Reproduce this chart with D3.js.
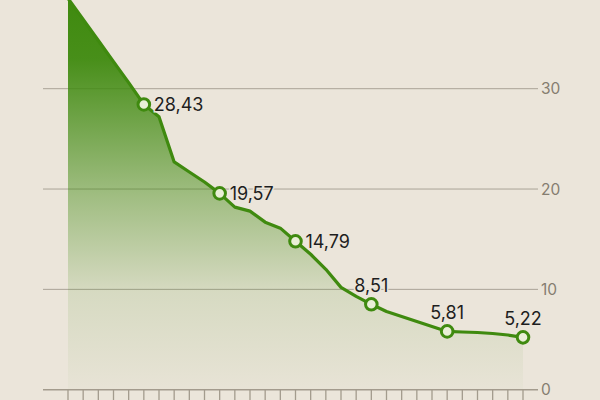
<!DOCTYPE html>
<html>
<head>
<meta charset="utf-8">
<script src="https://cdn.jsdelivr.net/npm/d3@7"></script>
<style>
  html, body { margin: 0; padding: 0; background: #ebe5da; }
  svg { display: block; }
</style>
</head>
<body>
<svg id="chart" width="600" height="400"></svg>
<script>
const days = [1, 2, 3, 4, 5, 6, 7, 8, 9, 10, 11, 12, 13, 14, 15, 16,
  17, 18, 19, 20, 21, 22, 23, 24, 25, 26, 27, 28, 29, 30, 31];
const values = [39.0, 36.9, 34.8, 32.7, 30.6, 28.43, 27.2, 22.7, 21.7, 20.7,
  19.57, 18.2, 17.8, 16.7, 16.1, 14.79, 13.5, 12.0, 10.2, 9.3,
  8.51, 7.8, 7.3, 6.8, 6.3, 5.81, 5.75, 5.7, 5.6, 5.45, 5.22];
const markedDays = [6, 11, 16, 21, 26, 31];
const labelsRight = [6, 11, 16];   // label to the right of the dot, others above
const yTicks = [0, 10, 20, 30];

const W = 600, H = 400;
const GRID_LEFT = 43, GRID_RIGHT = 538;
const GREEN = "#3f8a0f";
const FONT = "Inter, Roboto, 'Liberation Sans', sans-serif";

const svg = d3.select("#chart").attr("viewBox", `0 0 ${W} ${H}`);

const x = d3.scalePoint().domain(days).range([68, 523]);
const y = d3.scaleLinear().domain([0, 30]).range([389.7, 88.7]);

const data = days.map((d, i) => ({ day: d, v: values[i] }));

// gradient for the area
const grad = svg.append("defs").append("linearGradient")
  .attr("id", "areaGrad")
  .attr("gradientUnits", "userSpaceOnUse")
  .attr("x1", 0).attr("y1", 0).attr("x2", 0).attr("y2", y(0));
[[0, 1], [0.15, 0.95], [0.5, 0.44], [0.75, 0.12], [1, 0.02]].forEach(([o, a]) => {
  grad.append("stop").attr("offset", o).attr("stop-color", GREEN).attr("stop-opacity", a);
});

// gridlines
svg.append("g").selectAll("line")
  .data(yTicks.filter(t => t > 0))
  .join("line")
    .attr("x1", GRID_LEFT).attr("x2", GRID_RIGHT)
    .attr("y1", d => y(d)).attr("y2", d => y(d))
    .attr("stroke", "#aaa397").attr("stroke-width", 1);

// area + line
svg.append("path")
  .datum(data)
  .attr("fill", "url(#areaGrad)")
  .attr("d", d3.area().x(d => x(d.day)).y0(y(0)).y1(d => y(d.v)));

svg.append("path")
  .datum(data)
  .attr("fill", "none")
  .attr("stroke", GREEN)
  .attr("stroke-width", 3.2)
  .attr("stroke-linejoin", "round")
  .attr("d", d3.line().x(d => x(d.day)).y(d => y(d.v)));

// x axis with a tick per day
svg.append("line")
  .attr("x1", GRID_LEFT).attr("x2", GRID_RIGHT)
  .attr("y1", y(0)).attr("y2", y(0))
  .attr("stroke", "#a39b8d").attr("stroke-width", 1.5);
svg.append("g").selectAll("line")
  .data(days)
  .join("line")
    .attr("x1", d => x(d)).attr("x2", d => x(d))
    .attr("y1", y(0)).attr("y2", H)
    .attr("stroke", "#a39b8d").attr("stroke-width", 1.3);

// y labels on the right
svg.append("g").selectAll("text")
  .data(yTicks)
  .join("text")
    .attr("x", 541)
    .attr("y", d => y(d))
    .attr("dy", "0.36em")
    .attr("fill", "#857d70")
    .attr("font-family", FONT)
    .attr("font-size", 15.5)
    .text(d => d);

// markers
const marked = data.filter(d => markedDays.includes(d.day));
svg.append("g").selectAll("circle")
  .data(marked)
  .join("circle")
    .attr("cx", d => x(d.day))
    .attr("cy", d => y(d.v))
    .attr("r", 5.8)
    .attr("fill", "#e9efd6")
    .attr("stroke", GREEN)
    .attr("stroke-width", 3);

const fmt = v => v.toFixed(2).replace(".", ",");
svg.append("g").selectAll("text")
  .data(marked)
  .join("text")
    .attr("x", d => labelsRight.includes(d.day) ? x(d.day) + 10 : x(d.day))
    .attr("y", d => labelsRight.includes(d.day) ? y(d.v) : y(d.v) - 12)
    .attr("dy", d => labelsRight.includes(d.day) ? "0.36em" : 0)
    .attr("text-anchor", d => labelsRight.includes(d.day) ? "start" : "middle")
    .attr("fill", "#1e1e1e")
    .attr("stroke", "#ebe5da")
    .attr("stroke-width", 3)
    .attr("paint-order", "stroke")
    .attr("font-family", FONT)
    .attr("font-size", 18)
    .text(d => fmt(d.v));
</script>
</body>
</html>
